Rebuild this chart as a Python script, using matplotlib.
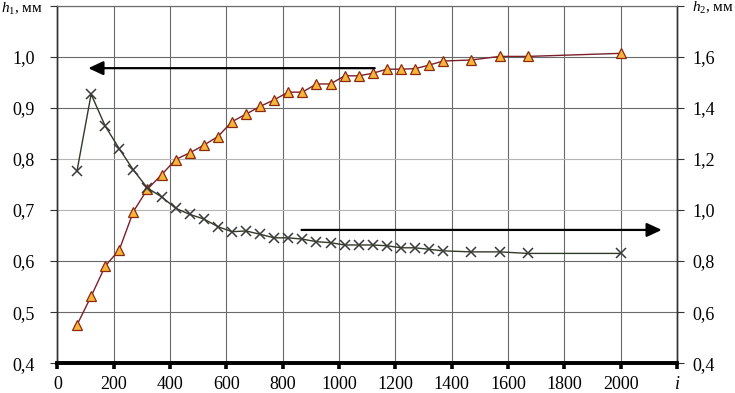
import matplotlib
matplotlib.use("Agg")
import matplotlib.pyplot as plt

plt.rcParams["font.family"] = ["Liberation Serif", "DejaVu Serif"]
plt.rcParams["mathtext.fontset"] = "custom"
plt.rcParams["mathtext.rm"] = "Liberation Serif"
plt.rcParams["mathtext.it"] = "Liberation Serif:italic"

# data
i_vals = [70, 120, 170, 220, 270, 320, 370, 420, 470, 520, 570, 620, 670, 720, 770,
          820, 870, 920, 970, 1020, 1070, 1120, 1170, 1220, 1270, 1320, 1370,
          1470, 1570, 1670, 2000]
h1 = [0.475, 0.531, 0.590, 0.622, 0.697, 0.741, 0.769, 0.799, 0.812, 0.827, 0.844,
      0.873, 0.888, 0.903, 0.916, 0.931, 0.931, 0.947, 0.947, 0.963, 0.963, 0.968,
      0.976, 0.976, 0.977, 0.984, 0.992, 0.994, 1.001, 1.001, 1.007]
h2 = [1.154, 1.454, 1.329, 1.240, 1.157, 1.086, 1.052, 1.007, 0.983, 0.965, 0.935,
      0.915, 0.918, 0.905, 0.891, 0.891, 0.886, 0.876, 0.872, 0.863, 0.863, 0.863,
      0.860, 0.852, 0.852, 0.846, 0.840, 0.836, 0.836, 0.830, 0.830]

x_ticks = list(range(0, 2201, 200))
x_labels = [str(t) for t in range(0, 2001, 200)] + ["$i$"]
h1_ticks = [0.4, 0.5, 0.6, 0.7, 0.8, 0.9, 1.0, 1.1]
h1_labels = ["0,4", "0,5", "0,6", "0,7", "0,8", "0,9", "1,0", ""]
h1_name = "$h_1$, мм"
h2_ticks = [0.4, 0.6, 0.8, 1.0, 1.2, 1.4, 1.6, 1.8]
h2_labels = ["0,4", "0,6", "0,8", "1,0", "1,2", "1,4", "1,6", "$h_2$, мм"]

# arrows: which curve belongs to which axis
arrow_left = ((1127, 0.978), (110, 0.978))
arrow_right = ((867, 0.922), (2146, 0.922))

fig = plt.figure(figsize=(7.35, 3.93), dpi=100)
ax = fig.add_axes([0.078, 0.076, 0.843, 0.909])
ax2 = ax.twinx()

ax.set_xlim(0, 2200)
ax.set_ylim(0.4, 1.1)
ax2.set_ylim(0.4, 1.8)

ax.set_xticks(x_ticks, x_labels, fontsize=13)
ax.set_yticks(h1_ticks, h1_labels, fontsize=13)
ax2.set_yticks(h2_ticks, h2_labels, fontsize=13)
ax2.yaxis.get_major_ticks()[-1].label2.set_fontsize(11)

# left axis name sits in the top-left corner, where the top tick label would be
fig.text(0.002, 0.997, h1_name, ha="left", va="top", fontsize=11)

ax.grid(True, color="#6a6a6a", lw=0.8)
ax.set_axisbelow(True)
for k, gl in enumerate(ax.get_ygridlines()):
    if h1_ticks[k] in (0.7, 0.8):
        gl.set_color("#b5b5b5")

for a in (ax, ax2):
    a.spines["bottom"].set_linewidth(2.6)
    a.spines["bottom"].set_color("black")
    a.spines["left"].set_linewidth(1.0)
    a.spines["left"].set_color("#333333")
    a.spines["right"].set_linewidth(1.0)
    a.spines["right"].set_color("#333333")
    a.spines["top"].set_linewidth(0.8)
    a.spines["top"].set_color("#6a6a6a")

ax.tick_params(axis="x", direction="out", length=4, width=2.6, color="black", pad=5)
ax.tick_params(axis="y", direction="out", length=5, width=0.8, color="#333333", pad=11)
ax2.tick_params(axis="y", direction="out", length=5, width=0.8, color="#333333", pad=6)

ax.plot(i_vals, h1, color="#7b1f2a", lw=1.0, marker="^", markersize=7.5,
        markerfacecolor="#f7b53b", markeredgecolor="#8b2a10", markeredgewidth=0.9)
ax2.plot(i_vals, h2, color="#2f3a28", lw=1.0, marker="x", markersize=7,
         markeredgecolor="#3a3a3a", markeredgewidth=1.1)

arrow_style = "-|>,head_length=0.75,head_width=0.35"
ax.annotate("", xy=arrow_left[1], xytext=arrow_left[0],
            arrowprops=dict(arrowstyle=arrow_style, mutation_scale=12, lw=1.6,
                            color="black", shrinkA=0, shrinkB=0))
ax2.annotate("", xy=arrow_right[1], xytext=arrow_right[0],
             arrowprops=dict(arrowstyle=arrow_style, mutation_scale=12, lw=1.6,
                             color="black", shrinkA=0, shrinkB=0))

plt.savefig("out.png", dpi=100)
